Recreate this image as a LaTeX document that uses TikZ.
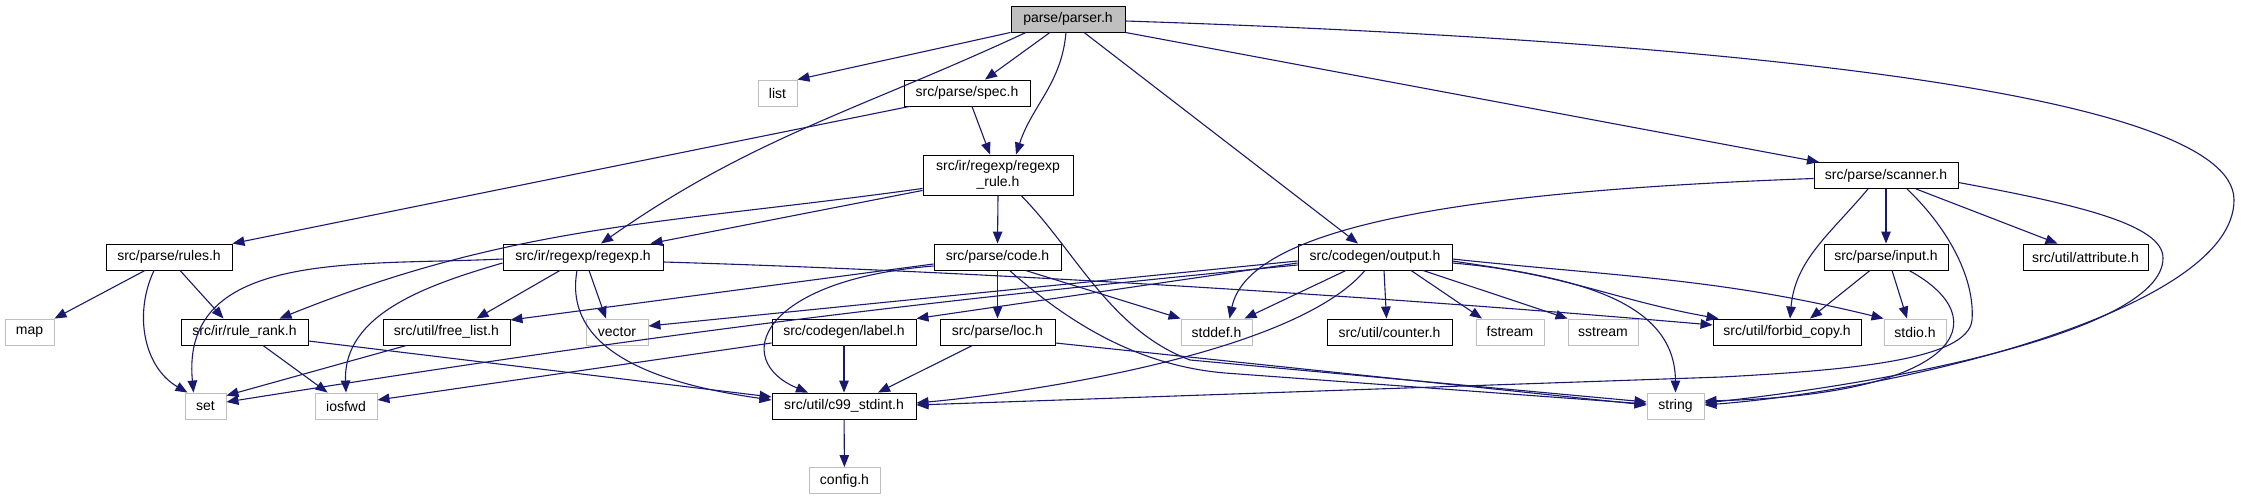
\documentclass[tikz,border=0pt]{standalone}
\usepackage{fontspec}
\setmainfont{Liberation Sans}
\usetikzlibrary{arrows.meta,positioning,calc}
\definecolor{inclblue}{RGB}{25,25,112}
\definecolor{sysgray}{RGB}{191,191,191}
\tikzset{
  filebox/.style={draw=black, fill=white, line width=0.9pt, minimum height=26pt,
    inner sep=0pt, font=\fontsize{14}{16}\selectfont},
  sysbox/.style={filebox, draw=sysgray},
  rootbox/.style={filebox, fill=sysgray},
  incln/.style={-{Triangle[length=12pt,width=9.5pt]}, draw=inclblue, line width=1.1pt},
}
\begin{document}
\begin{tikzpicture}[x=1pt, y=-1pt]
  \useasboundingbox (0,0) rectangle (2254,500);
  % header files, top to bottom
  \node[rootbox, minimum width=114pt] (parser) at (1068,19) {parse/parser.h};
  \node[sysbox, minimum width=39pt] (list) at (777.5,93) {list};
  \node[filebox, minimum width=126pt] (spec) at (967,93) {src/parse/spec.h};
  \node[filebox, minimum width=144pt] (scanner) at (1886,175.5) {src/parse/scanner.h};
  \node[filebox, minimum width=150pt, minimum height=40pt, align=center] (rule) at (998,175)
    {src/ir/regexp/regexp\\\_rule.h};
  \node[filebox, minimum width=126pt] (rules) at (169,257) {src/parse/rules.h};
  \node[filebox, minimum width=160pt] (regexp) at (583,257) {src/ir/regexp/regexp.h};
  \node[filebox, minimum width=127pt] (code) at (997.5,257) {src/parse/code.h};
  \node[filebox, minimum width=154pt] (output) at (1375,257) {src/codegen/output.h};
  \node[filebox, minimum width=124pt] (input) at (1886,257) {src/parse/input.h};
  \node[filebox, minimum width=125pt] (attribute) at (2085.5,257) {src/util/attribute.h};
  \node[sysbox, minimum width=49pt] (map) at (29.5,332) {map};
  \node[filebox, minimum width=127pt] (rulerank) at (244.5,332) {src/ir/rule\_rank.h};
  \node[filebox, minimum width=127pt] (freelist) at (446.5,332) {src/util/free\_list.h};
  \node[sysbox, minimum width=62pt] (vector) at (617,332) {vector};
  \node[filebox, minimum width=144pt] (label) at (844,332) {src/codegen/label.h};
  \node[filebox, minimum width=115pt] (loc) at (997.5,332) {src/parse/loc.h};
  \node[sysbox, minimum width=71pt] (stddef) at (1216.5,332) {stddef.h};
  \node[filebox, minimum width=125pt] (counter) at (1389.5,332) {src/util/counter.h};
  \node[sysbox, minimum width=68pt] (fstream) at (1510,332) {fstream};
  \node[sysbox, minimum width=70pt] (sstream) at (1603,332) {sstream};
  \node[filebox, minimum width=148pt] (forbid) at (1787,332) {src/util/forbid\_copy.h};
  \node[sysbox, minimum width=62pt] (stdio) at (1915,332) {stdio.h};
  \node[sysbox, minimum width=41pt] (set) at (205.5,406) {set};
  \node[sysbox, minimum width=62pt] (iosfwd) at (346,406) {iosfwd};
  \node[filebox, minimum width=144pt] (c99) at (844,406) {src/util/c99\_stdint.h};
  \node[sysbox, minimum width=57pt] (string) at (1675.5,406) {string};
  \node[sysbox, minimum width=71pt] (config) at (844.5,480.5) {config.h};

  % includes of parse/parser.h
  \draw[incln] (parser.south west) -- (list.north east);
  \draw[incln] ([xshift=-18pt]parser.south) -- ([xshift=18pt]spec.north);
  \draw[incln] ([xshift=-2pt]parser.south) to[out=-95,in=72] ([xshift=18pt]rule.north);
  \draw[incln] ([xshift=-42pt]parser.south) .. controls (857,111) and (753,137) .. ([xshift=18pt]regexp.north);
  \draw[incln] ([xshift=16pt]parser.south) -- ([xshift=-17pt]output.north);
  \draw[incln] (parser.south east) -- ([xshift=-67pt]scanner.north);
  \draw[incln] ([yshift=-2pt]parser.east) .. controls (1700,40) and (2234,90) .. (2234,200)
    .. controls (2234,310) and (1900,390) .. ([yshift=1pt]string.east);
  % spec.h and regexp_rule.h
  \draw[incln] ([xshift=5pt]spec.south) -- ([xshift=-8pt]rule.north);
  \draw[incln] ([xshift=6pt]spec.south west) -- (rules.north east);
  \draw[incln] (rule.south) -- (code.north);
  \draw[incln] ([yshift=5pt]rule.south west) -- ([xshift=-13pt]regexp.north east);
  \draw[incln] ([yshift=7pt]rule.south west) .. controls (668,224) and (517,223) .. ([xshift=35pt]rulerank.north);
  \draw[incln] ([xshift=23pt]rule.south) .. controls (1075,250) and (1110,330) .. (1190,360)
    -- ([yshift=4pt]string.west);
  % rules.h
  \draw[incln] ([xshift=-24pt]rules.south) -- (map.north east);
  \draw[incln] ([xshift=-15pt]rules.south) to[out=-115,in=150] ([xshift=-18pt]set.north);
  \draw[incln] ([xshift=11pt]rules.south) -- ([xshift=-21pt]rulerank.north);
  % regexp.h
  \draw[incln] ([yshift=-2pt]regexp.west) .. controls (358,266) and (180,249) .. ([xshift=-12pt]set.north);
  \draw[incln] ([yshift=-6pt]regexp.west) .. controls (427,285) and (343,314) .. (iosfwd.north);
  \draw[incln] ([xshift=-23pt]regexp.south) -- ([xshift=30pt]freelist.north);
  \draw[incln] ([xshift=6pt]regexp.south) -- ([xshift=-11pt]vector.north);
  \draw[incln] ([xshift=-6pt]regexp.south) .. controls (561,360) and (681,387) .. ([yshift=6pt]c99.west);
  \draw[incln] ([yshift=-5pt]regexp.east) .. controls (1000,272) and (1400,298) .. ([yshift=7pt]forbid.west);
  \draw[incln] (rulerank) -- (iosfwd);
  \draw[incln] ([yshift=-9pt]rulerank.east) -- ([yshift=9pt]c99.west);
  \draw[incln] ([xshift=-40pt]freelist.south) -- ([yshift=-3pt]set.north east);
  % code.h, loc.h, label.h
  \draw[incln] ([yshift=-7pt]code.west) -- ([yshift=12pt]freelist.east);
  \draw[incln] ([yshift=-9pt]code.west) .. controls (760,280) and (730,360) .. ([xshift=-36pt]c99.north);
  \draw[incln] (code.south) -- (loc.north);
  \draw[incln] ([xshift=28pt]code.south) -- (stddef.north west);
  \draw[incln] ([xshift=12pt]code.south) .. controls (1060,315) and (1130,365) .. (1225,373)
    -- ([yshift=2pt]string.west);
  \draw[incln] ([xshift=-25pt]loc.south) -- ([xshift=34pt]c99.north);
  \draw[incln] ([yshift=-11pt]loc.east) -- ([yshift=1pt]string.west);
  \draw[incln] (label) -- (c99);
  \draw[incln] ([yshift=-11pt]label.west) -- ([yshift=6pt]iosfwd.east);
  % output.h
  \draw[incln] ([yshift=-6pt]output.west) -- (label.north east);
  \draw[incln] ([yshift=-4pt]output.west) -- ([yshift=6pt]vector.east);
  \draw[incln] ([yshift=-8pt]output.west) .. controls (877,306) and (644,336) .. ([yshift=4pt]set.east);
  \draw[incln] ([xshift=-29pt]output.south) -- ([xshift=28pt]stddef.north);
  \draw[incln] ([xshift=9pt]output.south) -- ([xshift=-3pt]counter.north);
  \draw[incln] ([xshift=36pt]output.south) -- ([xshift=-28pt]fstream.north);
  \draw[incln] ([xshift=48pt]output.south) -- (sstream.north west);
  \draw[incln] ([yshift=-6pt]output.east) .. controls (1559,272) and (1614,300) .. ([xshift=6pt]forbid.north west);
  \draw[incln] ([yshift=-2pt]output.east) .. controls (1622,277) and (1718,278) .. (stdio.north west);
  \draw[incln] ([yshift=-4pt]output.east) .. controls (1552,276) and (1675,292) .. (string.north);
  \draw[incln] ([xshift=-10pt]output.south) .. controls (1294,354) and (1026,393) .. ([yshift=3pt]c99.east);
  % scanner.h and input.h
  \draw[incln] (scanner) -- (input);
  \draw[incln] ([xshift=30pt]scanner.south) -- ([xshift=-28pt]attribute.north);
  \draw[incln] ([xshift=-18pt]scanner.south) to[out=-130,in=85] ([xshift=3pt]forbid.north);
  \draw[incln] ([yshift=-3pt]scanner.west) .. controls (1500,190) and (1250,220) .. ([xshift=13pt]stddef.north);
  \draw[incln] ([xshift=21pt]scanner.south) .. controls (1950,230) and (1975,280) .. (1972,320)
    .. controls (1968,360) and (1850,370) .. (1722,377) -- ([yshift=1pt]c99.east);
  \draw[incln] ([yshift=-7pt]scanner.east) .. controls (2080,205) and (2163,225) .. (2163,258)
    .. controls (2163,330) and (1900,382) .. ([yshift=3pt]string.east);
  \draw[incln] ([xshift=-16pt]input.south) -- ([xshift=23pt]forbid.north);
  \draw[incln] ([xshift=6pt]input.south) -- ([xshift=-8pt]stdio.north);
  \draw[incln] ([xshift=23pt]input.south) .. controls (2000,320) and (1960,395) .. ([yshift=5pt]string.east);
  \draw[incln] (c99) -- (config);
\end{tikzpicture}
\end{document}
